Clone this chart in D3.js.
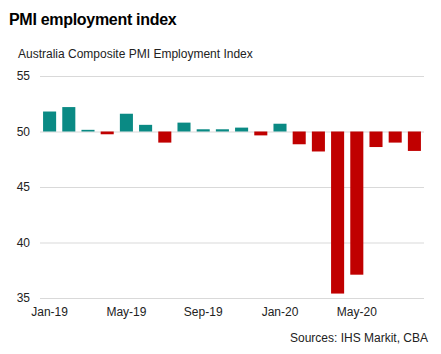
<!DOCTYPE html>
<html>
<head>
<meta charset="utf-8">
<script src="https://cdn.jsdelivr.net/npm/d3@7"></script>
<style>
  body { margin: 0; background: #fff; }
  text { font-family: 'Liberation Sans', Arial, sans-serif; }
</style>
</head>
<body>
<div id="chart"></div>
<script>
const months = ['Jan-19', 'Feb-19', 'Mar-19', 'Apr-19', 'May-19', 'Jun-19', 'Jul-19', 'Aug-19', 'Sep-19', 'Oct-19',
  'Nov-19', 'Dec-19', 'Jan-20', 'Feb-20', 'Mar-20', 'Apr-20', 'May-20', 'Jun-20', 'Jul-20', 'Aug-20']
const values = [51.8, 52.2, 50.15, 49.75, 51.6, 50.6, 49.0, 50.8, 50.2, 50.2,
  50.35, 49.65, 50.7, 48.85, 48.2, 35.4, 37.1, 48.6, 49.0, 48.25]
const yTicks = [35, 40, 45, 50, 55]
const xTickLabels = ['Jan-19', 'May-19', 'Sep-19', 'Jan-20', 'May-20']

const width = 441
const height = 354
const margin = { top: 76, left: 40, right: 17, bottom: 56 }

const svg = d3
  .select('#chart')
  .append('svg')
  .attr('width', width)
  .attr('height', height)

const xPositionScale = d3
  .scaleBand()
  .domain(months)
  .range([margin.left, width - margin.right])
  .paddingInner(0.32)
  .paddingOuter(0.16)

const yPositionScale = d3
  .scaleLinear()
  .domain([35, 55])
  .range([height - margin.bottom, margin.top])

// title + subtitle
svg.append('text')
  .text('PMI employment index')
  .attr('x', 9)
  .attr('y', 25)
  .attr('font-size', '16px')
  .attr('letter-spacing', '-0.3px')
  .attr('font-weight', 'bold')
  .attr('fill', '#000')

svg.append('text')
  .text('Australia Composite PMI Employment Index')
  .attr('x', 18)
  .attr('y', 58)
  .attr('font-size', '12px')
  .attr('fill', '#222')

// gridlines
const yAxis = d3.axisLeft(yPositionScale)
  .tickValues(yTicks)
  .tickSize(-(width - margin.left - margin.right))
  .tickPadding(10)

svg.append('g')
  .attr('class', 'axis y-axis')
  .attr('transform', 'translate(' + margin.left + ',0)')
  .call(yAxis)
  .call(g => g.select('.domain').remove())
  .call(g => g.selectAll('line').attr('stroke', '#d9d9d9'))
  .call(g => g.selectAll('text')
    .attr('font-size', '12px')
    .attr('fill', '#222')
    .attr('font-family', "'Liberation Sans', Arial, sans-serif"))

// bars
svg.selectAll('.bar')
  .data(values)
  .enter()
  .append('rect')
  .attr('class', 'bar')
  .attr('x', (d, i) => xPositionScale(months[i]))
  .attr('width', xPositionScale.bandwidth())
  .attr('y', d => yPositionScale(Math.max(d, 50)))
  .attr('height', d => Math.abs(yPositionScale(d) - yPositionScale(50)))
  .attr('fill', d => d >= 50 ? '#0a8a84' : '#c00000')

// x axis labels
const xAxis = d3.axisBottom(xPositionScale)
  .tickValues(xTickLabels)
  .tickSize(0)
  .tickPadding(9)

svg.append('g')
  .attr('class', 'axis x-axis')
  .attr('transform', 'translate(0,' + (height - margin.bottom) + ')')
  .call(xAxis)
  .call(g => g.select('.domain').remove())
  .call(g => g.selectAll('text')
    .attr('font-size', '12px')
    .attr('fill', '#222')
    .attr('font-family', "'Liberation Sans', Arial, sans-serif"))

svg.append('text')
  .text('Sources: IHS Markit, CBA')
  .attr('x', 428)
  .attr('y', 342)
  .attr('text-anchor', 'end')
  .attr('font-size', '12px')
  .attr('fill', '#222')
</script>
</body>
</html>
